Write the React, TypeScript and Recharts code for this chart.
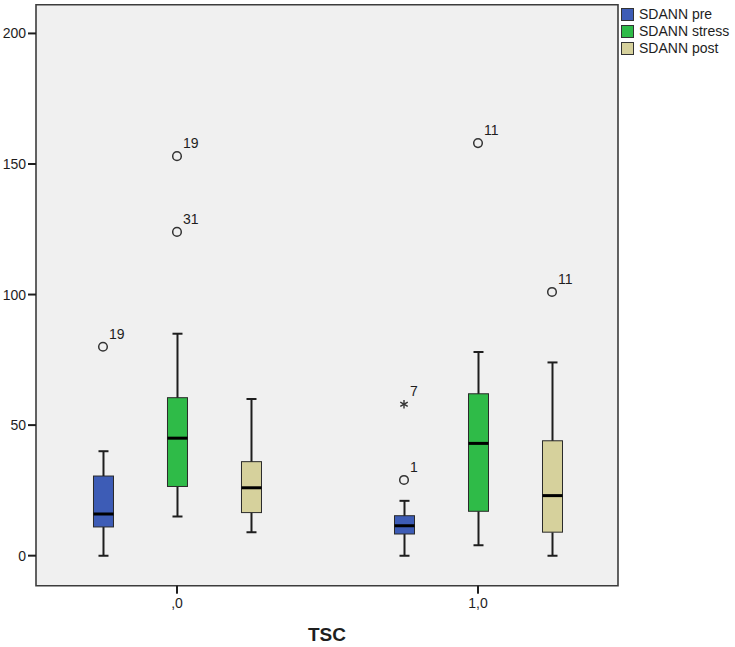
import React from 'react';
import { ComposedChart, Bar, Scatter, XAxis, YAxis, ReferenceArea, CartesianGrid } from 'recharts';

// Categories (TSC groups)
const groupValues = [0, 1];
const groupLabels = [',0', '1,0'];

// Series
const seriesKeys = ['pre', 'stress', 'post'];
const seriesNames = ['SDANN pre', 'SDANN stress', 'SDANN post'];
const seriesColors = ['#3d5cb6', '#2fbb48', '#d6d19c'];

// Box statistics, indexed [series][group]
const lowerWhisker = [[0, 0], [15, 4], [9, 0]];
const quartile1 = [[11, 8.3], [26.5, 17], [16.5, 9]];
const medians = [[16, 11.5], [45, 43], [26, 23]];
const quartile3 = [[30.5, 15.3], [60.5, 62], [36, 44]];
const upperWhisker = [[40, 21], [85, 78], [60, 74]];

// Outliers
const preOutliers = [
  { x: 0, y: 80, label: '19', extreme: false },
  { x: 1, y: 29, label: '1', extreme: false },
  { x: 1, y: 58, label: '7', extreme: true },
];
const stressOutliers = [
  { x: 0, y: 153, label: '19', extreme: false },
  { x: 0, y: 124, label: '31', extreme: false },
  { x: 1, y: 158, label: '11', extreme: false },
];
const postOutliers = [{ x: 1, y: 101, label: '11', extreme: false }];

const yTicks = [0, 50, 100, 150, 200];
const yDomain = [-11.5, 211];
const xDomain = [-0.4684, 1.4651];

const data = groupValues.map((g, gi) => {
  const row: any = { x: g };
  seriesKeys.forEach((k, si) => {
    row[`${k}_base`] = lowerWhisker[si][gi];
    row[`${k}_lw`] = quartile1[si][gi] - lowerWhisker[si][gi];
    row[`${k}_lb`] = medians[si][gi] - quartile1[si][gi];
    row[`${k}_ub`] = quartile3[si][gi] - medians[si][gi];
    row[`${k}_uw`] = upperWhisker[si][gi] - quartile3[si][gi];
  });
  return row;
});

const FONT = "Arial, 'Liberation Sans', Helvetica, sans-serif";
const INK = '#1e1e1e';

const EmptyShape = () => <g />;

const LowerWhiskerShape = (p: any) => {
  const cx = p.x + p.width / 2;
  const yb = p.y + p.height;
  return (
    <g>
      <line x1={cx} x2={cx} y1={p.y} y2={yb} stroke={INK} strokeWidth={2} />
      <line x1={cx - 5} x2={cx + 5} y1={yb} y2={yb} stroke={INK} strokeWidth={2} />
    </g>
  );
};

const UpperWhiskerShape = (p: any) => {
  const cx = p.x + p.width / 2;
  return (
    <g>
      <line x1={cx} x2={cx} y1={p.y} y2={p.y + p.height} stroke={INK} strokeWidth={2} />
      <line x1={cx - 5} x2={cx + 5} y1={p.y} y2={p.y} stroke={INK} strokeWidth={2} />
    </g>
  );
};

const makeBoxShape = (color: string, withMedian: boolean) => (p: any) => (
  <g>
    <rect x={p.x} y={p.y} width={p.width} height={p.height} fill={color} stroke="#2a2a2a" strokeWidth={1} />
    {withMedian && (
      <line x1={p.x} x2={p.x + p.width} y1={p.y + p.height} y2={p.y + p.height} stroke="#000" strokeWidth={3} />
    )}
  </g>
);

const makeOutlierShape = (offset: number) => (p: any) => {
  const cx = p.cx + offset;
  const cy = p.cy;
  const { label, extreme } = p.payload;
  const r = 4.3;
  return (
    <g>
      {extreme ? (
        <g stroke="#333" strokeWidth={1.4}>
          <line x1={cx} y1={cy - r} x2={cx} y2={cy + r} />
          <line x1={cx - r * 0.87} y1={cy - r * 0.5} x2={cx + r * 0.87} y2={cy + r * 0.5} />
          <line x1={cx - r * 0.87} y1={cy + r * 0.5} x2={cx + r * 0.87} y2={cy - r * 0.5} />
        </g>
      ) : (
        <circle cx={cx} cy={cy} r={r} fill="none" stroke="#333" strokeWidth={1.5} />
      )}
      <text x={cx + 6} y={cy - 8} fontSize={14} fill={INK} style={{ fill: INK }} fontFamily={FONT}>
        {label}
      </text>
    </g>
  );
};

const outlierSets = [preOutliers, stressOutliers, postOutliers];
const outlierOffsets = [-74, 0, 74];

export default function App() {
  return (
    <div style={{ position: 'absolute', left: 0, top: 0, width: 735, height: 647, background: '#fff' }}>
      <ComposedChart
        width={735}
        height={647}
        data={data}
        margin={{ top: 4.7, right: 117, left: 0, bottom: 0 }}
        barSize={20}
        barGap={54}
      >
        <CartesianGrid fill="#f0f0f0" horizontal={false} vertical={false} />
        <XAxis
          dataKey="x"
          type="number"
          domain={xDomain}
          ticks={groupValues}
          allowDataOverflow
          tickFormatter={(v: number) => groupLabels[groupValues.indexOf(v)] ?? ''}
          height={61.3}
          tickSize={8}
          tickMargin={4.5}
          axisLine={false}
          tickLine={{ stroke: INK, strokeWidth: 2 }}
          tick={{ fill: INK, fontSize: 14, fontFamily: FONT }}
          label={{ value: 'TSC', position: 'insideBottom', offset: 6, fill: INK, fontSize: 19, fontWeight: 'bold', fontFamily: FONT }}
        />
        <YAxis
          type="number"
          domain={yDomain}
          ticks={yTicks}
          allowDataOverflow
          width={36}
          tickSize={8}
          axisLine={false}
          tickLine={{ stroke: INK, strokeWidth: 2 }}
          tick={{ fill: INK, fontSize: 14, fontFamily: FONT }}
        />
        {seriesKeys.map((k, si) => [
          <Bar key={`${k}_base`} dataKey={`${k}_base`} stackId={k} shape={EmptyShape} isAnimationActive={false} />,
          <Bar key={`${k}_lw`} dataKey={`${k}_lw`} stackId={k} shape={LowerWhiskerShape} isAnimationActive={false} />,
          <Bar key={`${k}_lb`} dataKey={`${k}_lb`} stackId={k} shape={makeBoxShape(seriesColors[si], false)} isAnimationActive={false} />,
          <Bar key={`${k}_ub`} dataKey={`${k}_ub`} stackId={k} shape={makeBoxShape(seriesColors[si], true)} isAnimationActive={false} />,
          <Bar key={`${k}_uw`} dataKey={`${k}_uw`} stackId={k} shape={UpperWhiskerShape} isAnimationActive={false} />,
        ])}
        {outlierSets.map((set, si) => (
          <Scatter
            key={`out_${si}`}
            data={set}
            dataKey="y"
            shape={makeOutlierShape(outlierOffsets[si])}
            isAnimationActive={false}
          />
        ))}
        <ReferenceArea
          x1={xDomain[0]}
          x2={xDomain[1]}
          y1={yDomain[0]}
          y2={yDomain[1]}
          fill="none"
          fillOpacity={0}
          stroke="#3c3c3c"
          strokeOpacity={1}
          strokeWidth={1.6}
          ifOverflow="visible"
        />
      </ComposedChart>
      <div style={{ position: 'absolute', left: 621, top: 6, fontFamily: FONT, fontSize: 14, color: INK }}>
        {seriesNames.map((n, i) => (
          <div key={n} style={{ display: 'flex', alignItems: 'center', height: 17.2 }}>
            <span
              style={{
                display: 'inline-block',
                width: 11,
                height: 11,
                background: seriesColors[i],
                border: '1px solid #333',
                marginRight: 5,
              }}
            />
            <span style={{ lineHeight: '17px' }}>{n}</span>
          </div>
        ))}
      </div>
    </div>
  );
}
